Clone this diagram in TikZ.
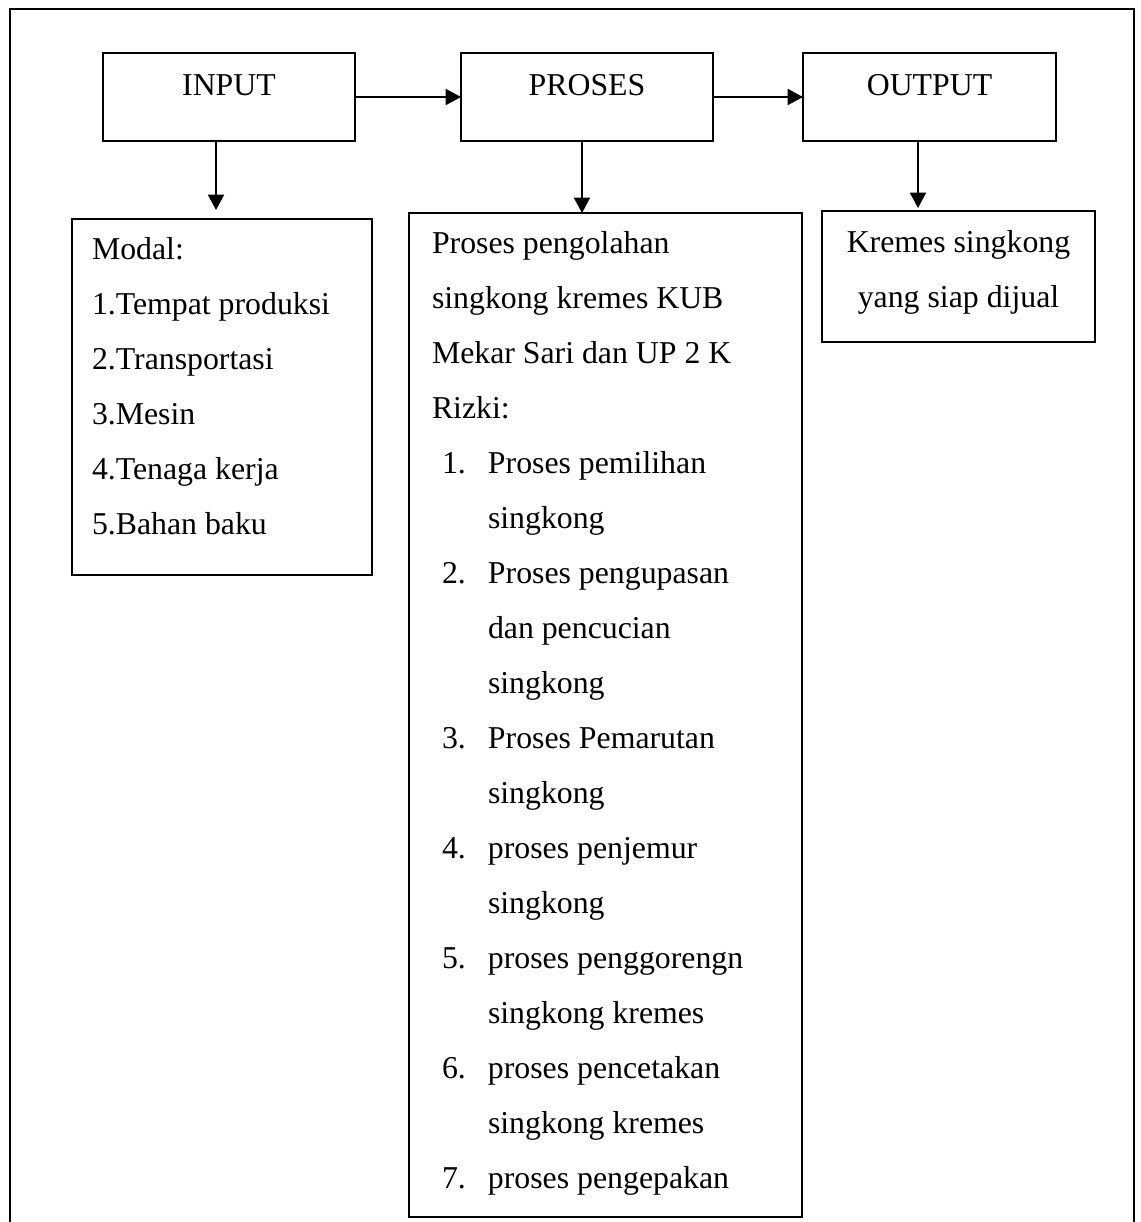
\documentclass[tikz,border=0pt]{standalone}
\usepackage{fontspec}
\setmainfont{Liberation Serif}
\usetikzlibrary{arrows.meta,calc}

% #1 width, #2 height, #3 distance top->first baseline, #4 alignment setup, #5 lines
\newcommand\tbox[5]{\vbox to #2{\hsize=#1\relax\parindent=0pt\relax
  \fontsize{23.85pt}{41.25pt}\selectfont #4\leavevmode\rule{0pt}{#3}#5\par\vss}}
\newcommand\leftal[1]{\leftskip=#1\rightskip=0pt plus 1fil\parfillskip=0pt plus 1fil\relax}
\newcommand\cental{\leftskip=0pt plus 1fil\rightskip=0pt plus 1fil\parfillskip=0pt\relax}
\newcommand\itm[2]{\hspace*{7.5pt}\makebox[34.5pt][l]{#1}#2}
\newcommand\cnt[1]{\hspace*{42pt}#1}

\begin{document}
\begin{tikzpicture}[x=0.75pt,y=-0.75pt,
  box/.style={draw, line width=1.4pt, inner sep=0pt, outer sep=0pt, anchor=north west},
  arr/.style={line width=1.4pt, -{Triangle[length=11.5pt,width=12pt]}},
  frame/.style={line width=1.9pt}]
\useasboundingbox (0,0) rectangle (1141,1222);
\draw[frame] (10,1222) -- (10,9) -- (1134,9) -- (1134,1222);

\node[box] (in)   at (103,53) {\tbox{189pt}{66pt}{31.5pt}{\cental}{INPUT}};
\node[box] (proc) at (461,53) {\tbox{189pt}{66pt}{31.5pt}{\cental}{PROSES}};
\node[box] (out)  at (803,53) {\tbox{189.75pt}{66pt}{31.5pt}{\cental}{OUTPUT}};

\node[box] (modal) at (72,219) {\tbox{225pt}{267pt}{30pt}{\leftal{15pt}}{%
Modal:\par
1.Tempat produksi\par
2.Transportasi\par
3.Mesin\par
4.Tenaga kerja\par
5.Bahan baku}};

\node[box] (list) at (409,213) {\tbox{294.75pt}{753pt}{30pt}{\leftal{17.25pt}}{%
Proses pengolahan\par
singkong kremes KUB\par
Mekar Sari dan UP 2 K\par
Rizki:\par
\itm{1.}{Proses pemilihan}\par
\cnt{singkong}\par
\itm{2.}{Proses pengupasan}\par
\cnt{dan pencucian}\par
\cnt{singkong}\par
\itm{3.}{Proses Pemarutan}\par
\cnt{singkong}\par
\itm{4.}{proses penjemur}\par
\cnt{singkong}\par
\itm{5.}{proses penggorengn}\par
\cnt{singkong kremes}\par
\itm{6.}{proses pencetakan}\par
\cnt{singkong kremes}\par
\itm{7.}{proses pengepakan}}};

\node[box] (kr) at (822,211) {\tbox{204.75pt}{98.25pt}{30.75pt}{\cental}{%
Kremes singkong\par
yang siap dijual}};

\draw[arr] (in.east) -- (proc.west);
\draw[arr] (proc.east) -- (out.west);
\draw[arr] ($(in.south)+(-13,0)$) -- ($(modal.north)+(-6,-9)$);
\draw[arr] ($(proc.south)+(-5,0)$) -- ($(list.north)+(-23.5,0)$);
\draw[arr] ($(out.south)+(-11.5,0)$) -- ($(kr.north)+(-40.5,-3)$);
\end{tikzpicture}
\end{document}
